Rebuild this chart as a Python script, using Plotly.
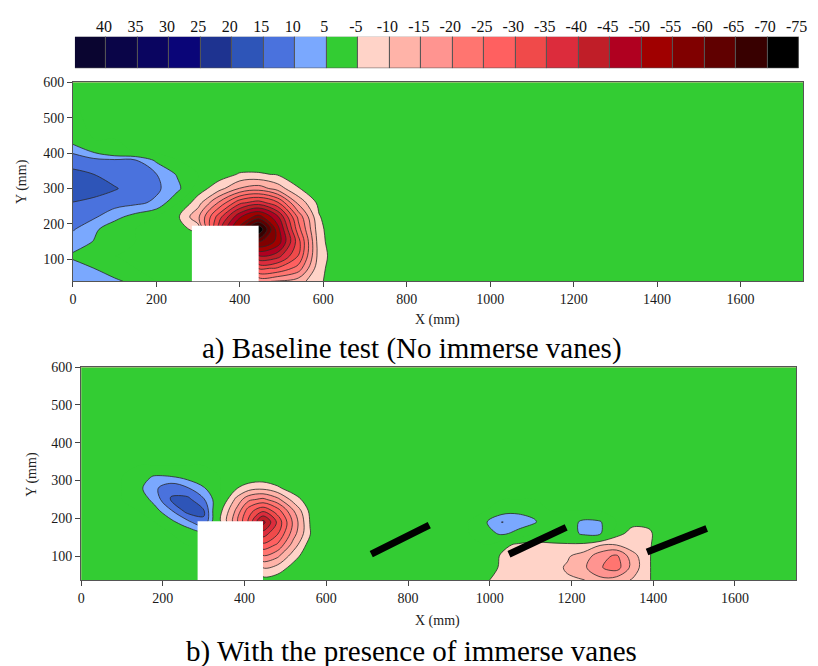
import plotly.graph_objects as go

# ---------------- legend bar (left to right) ----------------
bar_labels = ["40", "35", "30", "25", "20", "15", "10", "5", "-5", "-10", "-15", "-20",
              "-25", "-30", "-35", "-40", "-45", "-50", "-55", "-60", "-65", "-70", "-75"]
bar_colors = ["#0a0530", "#0a0548", "#0a0560", "#0a0578", "#1e3390", "#2e55b8", "#4a72dd",
              "#7aa8fe", "#33cc33", "#ffd3c8", "#ffb3a8", "#ff9490", "#ff7570", "#ff6060",
              "#f04a4a", "#dc2c3c", "#c01e28", "#b00020", "#a00000", "#800000", "#600000",
              "#380000", "#000000"]

# contour levels
lev_start, lev_end, lev_step = -75, 40, 5

x_ticks = [0, 200, 400, 600, 800, 1000, 1200, 1400, 1600]
y_ticks = [100, 200, 300, 400, 500, 600]

# ---------------- a) baseline test: sampled field (mm grid) ----------------
xa = [0, 50, 100, 150, 200, 250, 300, 350, 400, 445, 490, 540, 590, 640, 700, 1750]
ya = [38, 75, 110, 150, 185, 220, 260, 300, 340, 380, 400, 440, 600]
za = [
    [7.5, 7.0, 6.4, 3.0, 0, 0, 0, 0, 0, -15.8, -14.6, -12.3, -6.0, -1.0, 0, 0],
    [6.8, 5.0, 1.0, 0, 0, 0, 0, 0, 0, -30.7, -29.5, -23.0, -6.5, -1.5, 0, 0],
    [4.2, 0, 0, 0, 0, 0, 0, 0, 0, -44.8, -42.3, -29.9, -7.7, -1.0, 0, 0],
    [7.5, 4.8, 0.5, 0, 0, 0, 0, -12.0, -40.0, -60.9, -53.7, -32.2, -7.1, 0, 0, 0],
    [10.5, 6.0, 2.0, 0, 0, -2.5, -7.0, -37.4, -57.2, -75.0, -52.4, -27.2, -6.5, 0, 0, 0],
    [12.5, 10.8, 6.5, 3.0, 0, -4.0, -14.0, -32.8, -49.4, -57.5, -46.3, -23.8, -5.4, 0, 0, 0],
    [14.8, 13.5, 12.3, 11.2, 9.0, 0.4, -7.8, -20.7, -33.7, -37.5, -31.0, -13.7, -3.5, 0, 0, 0],
    [19.0, 17.5, 15.4, 13.0, 11.0, 6.5, -2.5, -8.0, -15.3, -17.6, -12.8, -5.4, -0.9, 0, 0, 0],
    [16.5, 15.0, 13.0, 11.8, 10.1, 4.5, 0, -2.5, -5.5, -5.6, -4.6, -1.3, 0, 0, 0, 0],
    [12.5, 11.5, 10.8, 10.2, 4.0, 0, 0, 0, -1.0, -1.2, -0.5, 0, 0, 0, 0, 0],
    [9.8, 5.3, 1.5, 0, 0, 0, 0, 0, 0, 0, 0, 0, 0, 0, 0, 0],
    [2.0, 0, 0, 0, 0, 0, 0, 0, 0, 0, 0, 0, 0, 0, 0, 0],
    [0, 0, 0, 0, 0, 0, 0, 0, 0, 0, 0, 0, 0, 0, 0, 0],
]

# ---------------- b) with immerse vanes ----------------
xb = [0, 100, 140, 180, 220, 260, 300, 340, 380, 410, 445, 480, 520, 560, 600, 700,
      950, 990, 1030, 1070, 1110, 1150, 1190, 1230, 1270, 1310, 1350, 1390, 1430, 1750]
yb = [37, 70, 100, 130, 160, 190, 220, 250, 280, 310, 340, 400, 600]
zb = [
    [0, 0, 0, 0, 0, 0, 0, 0, 0, 0, -3.2, -2.3, 0, 0, 0, 0,
     0, -4.5, -6.5, -7.0, -7.5, -8.5, -9.5, -9.8, -13.5, -12.5, -9.5, -5.5, 0, 0],
    [0, 0, 0, 0, 0, 0, 0, 0, 0, 0, -10.2, -8.3, -3.0, 0, 0, 0,
     0, -2.0, -6.0, -6.5, -7.0, -8.5, -10.5, -14.0, -19.5, -22.5, -13.0, -5.5, 0, 0],
    [0, 0, 0, 0, 0, 0, 0, 0, 0, 0, -19.4, -16.1, -7.2, -1.0, 0, 0,
     0, -1.0, -5.8, -6.2, -6.5, -7.5, -9.5, -12.0, -18.0, -21.0, -12.0, -5.5, 0, 0],
    [0, 0, 0, 0, 0, 0, 0, 0, 0, 0, -28.7, -24.4, -12.7, -2.5, 0, 0,
     0, 0, -3.5, -6.0, -7.0, -6.0, -5.8, -6.5, -9.5, -9.8, -7.0, -5.8, 0, 0],
    [0, 0, 0, 0, 0, 1.0, 3.0, 0, 0, 0, -37.8, -30.8, -17.1, -5.3, 0, 0,
     0, 3.0, 6.0, 3.5, 1.0, 0, 1.5, 6.5, 5.8, -3.0, -7.0, -6.2, 0, 0],
    [0, 0, 0, 0, 3.5, 8.5, 14.5, -4.2, -18.4, -31.2, -47.0, -34.2, -18.7, -4.8, 0, 0,
     0, 4.5, 10.2, 7.5, 5.5, 1.0, 2.5, 6.2, 5.5, 0, -3.5, -3.2, 0, 0],
    [0, 0, 0, 3.0, 9.5, 17.0, 15.5, -3.5, -16.1, -27.9, -34.1, -27.6, -15.2, -3.8, 0, 0,
     0, 0, 2.5, 4.0, 3.5, 0, 0, 0, 0, 0, 0, 0, 0, 0],
    [0, 0, 1.0, 7.0, 15.5, 16.5, 10.5, 0.5, -11.4, -18.7, -21.2, -16.6, -7.8, -1.7, 0, 0,
     0, 0, 0, 0, 0, 0, 0, 0, 0, 0, 0, 0, 0, 0],
    [0, 0, 3.5, 9.0, 13.5, 10.5, 5.5, 0, -4.6, -7.7, -8.7, -6.0, -2.0, 0, 0, 0,
     0, 0, 0, 0, 0, 0, 0, 0, 0, 0, 0, 0, 0, 0],
    [0, 0, 3.0, 5.5, 5.2, 3.0, 0.5, 0, 0, -1.4, -1.8, -1.0, 0, 0, 0, 0,
     0, 0, 0, 0, 0, 0, 0, 0, 0, 0, 0, 0, 0, 0],
    [0] * 30,
    [0] * 30,
    [0] * 30,
]

# pier (blanked region) and vanes
pier_x = [285, 445]
pier_top = [195, 192]
vane_x0 = [710, 1047, 1385]
vane_y0 = [105, 105, 111]
vane_x1 = [852, 1187, 1531]
vane_y1 = [182, 176, 173]

# ---------------- colour scale for filled bands ----------------
def band_color(m):
    if -5 < m < 5:
        return bar_colors[8]
    if m < 0:
        j = min(int((-m - 5) // 5), 13)
        return bar_colors[9 + j]
    j = min(int((m - 5) // 5), 7)
    return bar_colors[7 - j]

n_lev = int(round((lev_end - lev_start) / lev_step)) + 1
n_band = n_lev + 1
colorscale = []
for k in range(n_band):
    m = lev_start - lev_step / 2 + lev_step * k
    colorscale.append([k / (n_band - 1), band_color(m)])

SERIF = "Liberation Serif, Times New Roman, Times, DejaVu Serif, serif"
LINE_COL = "#2a2a2a"
SMOOTH = 1.0


def contour_set(x, y, z, xr, yr):
    fill = go.Contour(
        x=x, y=y, z=z, xaxis=xr, yaxis=yr, autocontour=False,
        contours=dict(start=lev_start, end=lev_end, size=lev_step,
                      coloring="fill", showlines=False),
        colorscale=colorscale, showscale=False, hoverinfo="skip",
        line=dict(width=0, smoothing=SMOOTH),
    )
    neg = go.Contour(
        x=x, y=y, z=z, xaxis=xr, yaxis=yr, autocontour=False,
        contours=dict(start=lev_start, end=-5, size=lev_step, coloring="none"),
        showscale=False, hoverinfo="skip",
        line=dict(color=LINE_COL, width=0.8, smoothing=SMOOTH),
    )
    pos = go.Contour(
        x=x, y=y, z=z, xaxis=xr, yaxis=yr, autocontour=False,
        contours=dict(start=5, end=lev_end, size=lev_step, coloring="none"),
        showscale=False, hoverinfo="skip",
        line=dict(color=LINE_COL, width=0.8, smoothing=SMOOTH),
    )
    return [fill, neg, pos]


fig = go.Figure()
for t in contour_set(xa, ya, za, "x", "y"):
    fig.add_trace(t)
for t in contour_set(xb, yb, zb, "x2", "y2"):
    fig.add_trace(t)

# legend bar drawn as a row of boxes
fig.add_trace(go.Bar(
    x=list(range(len(bar_labels))), y=[1] * len(bar_labels), xaxis="x3", yaxis="y3",
    marker=dict(color=bar_colors, line=dict(color="#555555", width=1)),
    width=1, hoverinfo="skip", showlegend=False,
))

# piers and vanes
shapes = []
for i, (xr, yr, ylo) in enumerate([("x", "y", ya[0]), ("x2", "y2", yb[0])]):
    shapes.append(dict(type="rect", xref=xr, yref=yr, x0=pier_x[0], x1=pier_x[1],
                       y0=ylo, y1=pier_top[i], fillcolor="white",
                       line=dict(width=0), layer="above"))
for x0, y0, x1, y1 in zip(vane_x0, vane_y0, vane_x1, vane_y1):
    shapes.append(dict(type="line", xref="x2", yref="y2", x0=x0, y0=y0, x1=x1, y1=y1,
                       line=dict(color="black", width=7), layer="above"))

W, H = 818, 666


def px_x(p):
    return p / W


def px_y(p):
    return 1 - p / H


tickfont = dict(family=SERIF, size=14, color="#1a1a1a")
axis_common = dict(showgrid=False, zeroline=False, ticks="outside", ticklen=5,
                   tickcolor="#444444", showline=True, linecolor="#555555",
                   linewidth=1, mirror=True, tickfont=tickfont)

fig.update_layout(
    width=W, height=H, margin=dict(l=0, r=0, t=0, b=0),
    paper_bgcolor="white", plot_bgcolor="white", showlegend=False,
    bargap=0,
    xaxis=dict(domain=[px_x(70), px_x(811)], range=[0, 1750], tickvals=x_ticks,
               anchor="y", **axis_common),
    yaxis=dict(domain=[px_y(277.3), px_y(76)], range=[ya[0], 600], tickvals=y_ticks,
               anchor="x", **axis_common),
    xaxis2=dict(domain=[px_x(78.3), px_x(804)], range=[0, 1750], tickvals=x_ticks,
                anchor="y2", **axis_common),
    yaxis2=dict(domain=[px_y(579), px_y(364)], range=[yb[0], 600], tickvals=y_ticks,
                anchor="x2", **axis_common),
    xaxis3=dict(domain=[px_x(72), px_x(807)], range=[-0.5, len(bar_labels) - 0.5],
                anchor="y3", side="top", showgrid=False, zeroline=False,
                tickvals=[i + 0.42 for i in range(len(bar_labels))], ticktext=bar_labels,
                ticks="", ticklen=0, showline=False,
                tickfont=dict(family=SERIF, size=16, color="#111111")),
    yaxis3=dict(domain=[px_y(62), px_y(30)], range=[0, 1], anchor="x3",
                showticklabels=False, showgrid=False, zeroline=False, showline=False),
    shapes=shapes,
)

ann_font = dict(family=SERIF, size=14, color="#222222")
cap_font = dict(family=SERIF, size=29, color="#000000")
annotations = [
    dict(text="X (mm)", x=px_x(440), y=px_y(316), font=ann_font),
    dict(text="X (mm)", x=px_x(440), y=px_y(621), font=ann_font),
    dict(text="Y (mm)", x=px_x(18), y=px_y(176), font=ann_font, textangle=-90),
    dict(text="Y (mm)", x=px_x(28), y=px_y(472), font=ann_font, textangle=-90),
    dict(text="a) Baseline test (No immerse vanes)", x=px_x(414), y=px_y(345),
         font=cap_font),
    dict(text="b) With the presence of immerse vanes", x=px_x(414), y=px_y(651),
         font=cap_font),
]
for a in annotations:
    a.update(xref="paper", yref="paper", showarrow=False,
             xanchor="center", yanchor="middle")
fig.update_layout(annotations=annotations)

fig.write_html("out.html")
